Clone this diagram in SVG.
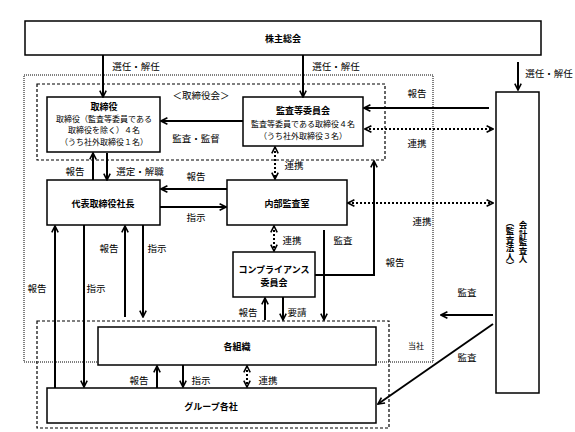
<svg xmlns="http://www.w3.org/2000/svg" width="575" height="432" viewBox="0 0 575 432">
<style>
text{font-family:"Noto Sans CJK JP","Noto Sans CJK SC",sans-serif;fill:#000;dominant-baseline:central;}
.t{font-size:9px;font-weight:bold;text-anchor:middle;}
.b{font-size:8px;text-anchor:middle;}
.l{font-size:9.5px;text-anchor:middle;}
.box{fill:#fff;stroke:#000;stroke-width:1.5;}
.ln{fill:none;stroke:#000;stroke-width:2;}
.dl{fill:none;stroke:#000;stroke-width:2;stroke-dasharray:2 2;}
.dash{fill:none;stroke:#000;stroke-width:1.2;stroke-dasharray:3 2;}
.dot{fill:none;stroke:#000;stroke-width:1;stroke-dasharray:1 1;}
.v{writing-mode:vertical-rl;font-size:8.5px;}
</style>
<defs>
<marker id="ah" viewBox="0 0 10 10" refX="9" refY="5" markerWidth="8" markerHeight="8" markerUnits="userSpaceOnUse" orient="auto-start-reverse">
<path d="M1,1 L9,5 L1,9" fill="none" stroke="#000" stroke-width="2"/>
</marker>
</defs>
<rect width="575" height="432" fill="#fff"/>
<g id="frames">
<rect class="dot" x="24" y="75" width="409" height="287"/>
<rect class="dash" x="37" y="84" width="348" height="76"/>
<rect class="dash" x="37" y="321" width="352" height="107"/>
<text class="l" x="201" y="95">＜取締役会＞</text>
<text class="b" x="416" y="345">当社</text>
</g>
<g id="shareholders"><rect class="box" x="25" y="21" width="516" height="34"/><text class="t" x="283" y="38">株主総会</text></g>
<g id="directors"><rect class="box" x="47" y="97" width="113" height="55"/>
<text class="t" x="104" y="106">取締役</text>
<text class="b" x="104" y="118.5">取締役（監査等委員である</text>
<text class="b" x="104" y="129.5">取締役を除く）４名</text>
<text class="b" x="104" y="141">（うち社外取締役１名）</text></g>
<g id="audit-committee"><rect class="box" x="243" y="97" width="120" height="49"/>
<text class="t" x="303" y="110">監査等委員会</text>
<text class="b" x="303" y="123">監査等委員である取締役４名</text>
<text class="b" x="303" y="135">（うち社外取締役３名）</text></g>
<g id="president"><rect class="box" x="47" y="180" width="113" height="45"/><text class="t" x="103" y="203">代表取締役社長</text></g>
<g id="internal-audit"><rect class="box" x="227" y="180" width="120" height="45"/><text class="t" x="287" y="203">内部監査室</text></g>
<g id="compliance"><rect class="box" x="233" y="252" width="82" height="45"/><text class="t" x="274" y="269">コンプライアンス</text><text class="t" x="274" y="282">委員会</text></g>
<g id="organizations"><rect class="box" x="98" y="327" width="278" height="38"/><text class="t" x="237" y="346">各組織</text></g>
<g id="group"><rect class="box" x="47" y="388" width="329" height="35"/><text class="t" x="211" y="406">グループ各社</text></g>
<g id="auditor"><rect class="box" x="496" y="92" width="43" height="301"/>
<text class="t v" x="523" y="242">会計監査人</text>
<text class="t v" x="510" y="244">（監査法人）</text></g>
<g id="connectors">
<line class="ln" x1="103" y1="55" x2="103" y2="97" marker-end="url(#ah)"/>
<line class="ln" x1="303" y1="55" x2="303" y2="97" marker-end="url(#ah)"/>
<line class="ln" x1="518" y1="62" x2="518" y2="90" marker-end="url(#ah)"/>
<line class="ln" x1="243" y1="121" x2="161" y2="121" marker-end="url(#ah)"/>
<line class="ln" x1="489" y1="108" x2="364" y2="108" marker-end="url(#ah)"/>
<line class="dl" x1="365" y1="129" x2="493" y2="129" marker-start="url(#ah)" marker-end="url(#ah)"/>
<line class="ln" x1="93" y1="180" x2="93" y2="153" marker-end="url(#ah)"/>
<line class="ln" x1="107" y1="153" x2="107" y2="180" marker-end="url(#ah)"/>
<line class="ln" x1="227" y1="189" x2="161" y2="189" marker-end="url(#ah)"/>
<line class="ln" x1="160" y1="207" x2="226" y2="207" marker-end="url(#ah)"/>
<line class="dl" x1="275" y1="147" x2="275" y2="179" marker-start="url(#ah)" marker-end="url(#ah)"/>
<line class="dl" x1="348" y1="203" x2="493" y2="203" marker-start="url(#ah)" marker-end="url(#ah)"/>
<line class="dl" x1="274" y1="226" x2="274" y2="251" marker-start="url(#ah)" marker-end="url(#ah)"/>
<line class="ln" x1="324" y1="230" x2="324" y2="320" marker-end="url(#ah)"/>
<path class="ln" d="M315,275 H374 V161" stroke-width="2.5" marker-end="url(#ah)"/>
<line class="ln" x1="55" y1="388" x2="55" y2="226" marker-end="url(#ah)"/>
<line class="ln" x1="84" y1="225" x2="84" y2="387" marker-end="url(#ah)"/>
<line class="ln" x1="125" y1="317" x2="125" y2="226" marker-end="url(#ah)"/>
<line class="ln" x1="143" y1="225" x2="143" y2="317" marker-end="url(#ah)"/>
<line class="ln" x1="265" y1="320" x2="265" y2="298" marker-end="url(#ah)"/>
<line class="ln" x1="283" y1="297" x2="283" y2="320" marker-end="url(#ah)"/>
<line class="ln" x1="157" y1="388" x2="157" y2="366" marker-end="url(#ah)"/>
<line class="ln" x1="183" y1="365" x2="183" y2="387" marker-end="url(#ah)"/>
<line class="dl" x1="247" y1="366" x2="247" y2="387" marker-start="url(#ah)" marker-end="url(#ah)"/>
<line class="ln" x1="493" y1="315" x2="441" y2="315" marker-end="url(#ah)"/>
<line class="ln" x1="493" y1="324" x2="378" y2="404" stroke-width="1.8" marker-end="url(#ah)"/>
<text class="l" x="136" y="66">選任・解任</text>
<text class="l" x="336" y="66">選任・解任</text>
<text class="l" x="549" y="73">選任・解任</text>
<text class="l" x="196" y="138">監査・監督</text>
<text class="l" x="417" y="93">報告</text>
<text class="l" x="417" y="143">連携</text>
<text class="l" x="75" y="171">報告</text>
<text class="l" x="140" y="171">選定・解職</text>
<text class="l" x="196" y="176">報告</text>
<text class="l" x="196" y="217">指示</text>
<text class="l" x="294" y="165">連携</text>
<text class="l" x="422" y="221">連携</text>
<text class="l" x="292" y="240">連携</text>
<text class="l" x="343" y="240">監査</text>
<text class="l" x="395" y="262">報告</text>
<text class="l" x="467" y="292">監査</text>
<text class="l" x="467" y="357">監査</text>
<text class="l" x="37" y="288">報告</text>
<text class="l" x="96" y="288">指示</text>
<text class="l" x="109" y="248">報告</text>
<text class="l" x="157" y="248">指示</text>
<text class="l" x="248" y="312">報告</text>
<text class="l" x="297" y="312">要請</text>
<text class="l" x="139" y="380">報告</text>
<text class="l" x="201" y="380">指示</text>
<text class="l" x="268" y="380">連携</text>
</g>
</svg>
